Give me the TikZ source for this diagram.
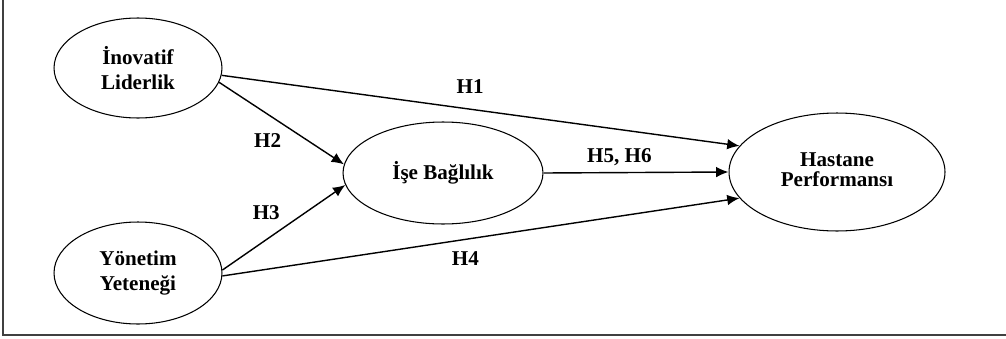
\documentclass[tikz,border=0pt]{standalone}
\usepackage{fontspec}
\setmainfont{Liberation Serif}
\usetikzlibrary{shapes.geometric,arrows.meta}

\begin{document}
\begin{tikzpicture}[x=0.02cm,y=-0.02cm,>={Latex[length=7pt,width=6pt]},
  var/.style={ellipse,draw,line width=0.6pt,inner sep=0pt,align=center,
    font=\fontsize{12}{14}\selectfont\bfseries},
  lbl/.style={font=\fontsize{12}{14}\selectfont\bfseries},
  hyp/.style={->,line width=0.8pt}]
\useasboundingbox (0,0) rectangle (1006,338);
\draw[line width=0.8pt,black!75] (3,0) -- (3,335) -- (1006,335);

\node[var,minimum width=3.36cm,minimum height=2cm] (inov) at (138,68) {İnovatif\\Liderlik};
\node[var,minimum width=3.36cm,minimum height=2.04cm] (yon) at (138,273) {Yönetim\\Yeteneği};
\node[var,minimum width=4cm,minimum height=2.04cm] (ise) at (443,173) {İşe Bağlılık};
\node[var,minimum width=4.32cm,minimum height=2.36cm] (hast) at (837,172) {\raisebox{3pt}{\shortstack{Hastane\\Performansı}}};

\path[hyp]
  (inov.-5) edge node[lbl,pos=0.48,above=5pt] {H1} (hast.165)
  (inov.-10) edge node[lbl,pos=0.55,below left] {H2} (ise.175)
  (yon.2) edge node[lbl,pos=0.52,above left] {H3} (ise.187)
  (yon.-2) edge node[lbl,pos=0.47,below=3pt] {H4} (hast.195)
  (ise.east) edge node[lbl,pos=0.41,above] {H5, H6} (hast.180)
  ;
\end{tikzpicture}
\end{document}
